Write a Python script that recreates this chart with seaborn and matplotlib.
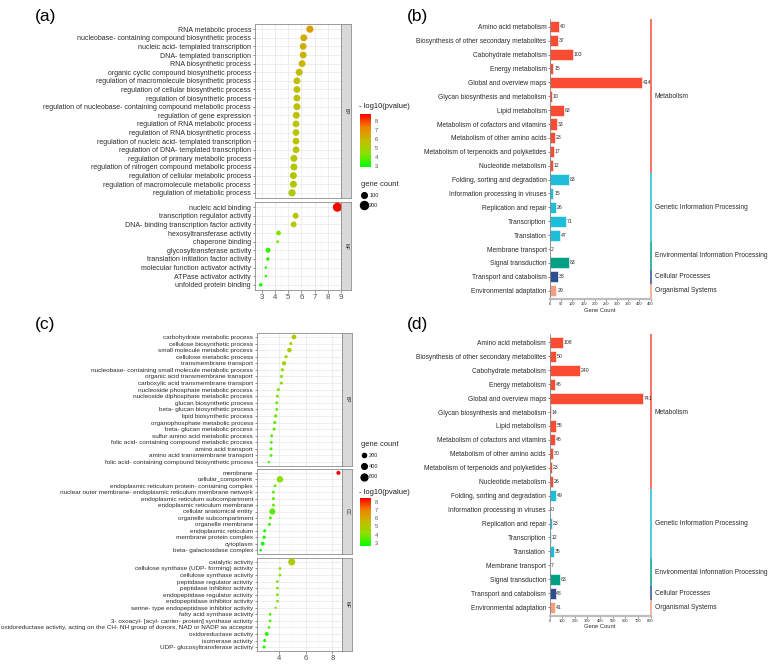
import numpy as np
import pandas as pd
import seaborn as sns
import matplotlib.pyplot as plt
from matplotlib.colors import LinearSegmentedColormap, Normalize
from matplotlib.cm import ScalarMappable
from matplotlib.lines import Line2D

# ---- data: GO enrichment, panel (a) ----
a_bp_terms = ["RNA metabolic process", "nucleobase- containing compound biosynthetic process",
              "nucleic acid- templated transcription", "DNA- templated transcription",
              "RNA biosynthetic process", "organic cyclic compound biosynthetic process",
              "regulation of macromolecule biosynthetic process", "regulation of cellular biosynthetic process",
              "regulation of biosynthetic process",
              "regulation of nucleobase- containing compound metabolic process",
              "regulation of gene expression", "regulation of RNA metabolic process",
              "regulation of RNA biosynthetic process", "regulation of nucleic acid- templated transcription",
              "regulation of DNA- templated transcription", "regulation of primary metabolic process",
              "regulation of nitrogen compound metabolic process", "regulation of cellular metabolic process",
              "regulation of macromolecule metabolic process", "regulation of metabolic process"]
a_bp_logp = [6.65, 6.19, 6.14, 6.14, 6.06, 5.84, 5.67, 5.67, 5.67, 5.67,
             5.62, 5.60, 5.60, 5.60, 5.60, 5.44, 5.44, 5.40, 5.40, 5.30]
a_bp_count = [160, 150, 145, 145, 145, 155, 145, 145, 145, 150,
              148, 142, 140, 140, 140, 150, 150, 152, 155, 160]

a_mf_terms = ["nucleic acid binding", "transcription regulator activity",
              "DNA- binding transcription factor activity", "hexosyltransferase activity",
              "chaperone binding", "glycosyltransferase activity", "translation initiation factor activity",
              "molecular function activator activity", "ATPase activator activity", "unfolded protein binding"]
a_mf_logp = [8.73, 5.57, 5.42, 4.28, 4.21, 3.49, 3.47, 3.32, 3.32, 2.93]
a_mf_count = [260, 110, 105, 70, 25, 80, 40, 20, 20, 35]

# ---- data: GO enrichment, panel (c) ----
c_bp_terms = ["carbohydrate metabolic process", "cellulose biosynthetic process",
              "small molecule metabolic process", "cellulose metabolic process", "transmembrane transport",
              "nucleobase- containing small molecule metabolic process", "organic acid transmembrane transport",
              "carboxylic acid transmembrane transport", "nucleoside phosphate metabolic process",
              "nucleoside diphosphate metabolic process", "glucan biosynthetic process",
              "beta- glucan biosynthetic process", "lipid biosynthetic process",
              "organophosphate metabolic process", "beta- glucan metabolic process",
              "sulfur amino acid metabolic process", "folic acid- containing compound metabolic process",
              "amino acid transport", "amino acid transmembrane transport",
              "folic acid- containing compound biosynthetic process"]
c_bp_logp = [5.12, 4.88, 4.78, 4.53, 4.38, 4.25, 4.18, 4.18, 3.95, 3.88,
             3.83, 3.83, 3.75, 3.68, 3.63, 3.45, 3.42, 3.40, 3.40, 3.23]
c_bp_count = [260, 90, 240, 100, 210, 110, 100, 95, 95, 80,
              85, 85, 110, 105, 90, 70, 70, 80, 75, 40]

c_cc_terms = ["membrane", "cellular_component", "endoplasmic reticulum protein- containing complex",
              "nuclear outer membrane- endoplasmic reticulum membrane network",
              "endoplasmic reticulum subcompartment", "endoplasmic reticulum membrane",
              "cellular anatomical entity", "organelle subcompartment", "organelle membrane",
              "endoplasmic reticulum", "membrane protein complex", "cytoplasm", "beta- galactosidase complex"]
c_cc_logp = [8.45, 4.07, 3.70, 3.58, 3.58, 3.58, 3.50, 3.35, 3.28, 2.93, 2.88, 2.78, 2.63]
c_cc_count = [190, 520, 70, 80, 80, 80, 470, 80, 85, 95, 110, 170, 50]

c_mf_terms = ["catalytic activity", "cellulose synthase (UDP- forming) activity", "cellulose synthase activity",
              "peptidase regulator activity", "peptidase inhibitor activity", "endopeptidase regulator activity",
              "endopeptidase inhibitor activity", "serine- type endopeptidase inhibitor activity",
              "fatty acid synthase activity", "3- oxoacyl- [acyl- carrier- protein] synthase activity",
              "oxidoreductase activity, acting on the CH- NH group of donors, NAD or NADP as acceptor",
              "oxidoreductase activity", "isomerase activity", "UDP- glucosyltransferase activity"]
c_mf_logp = [4.95, 4.07, 4.07, 3.88, 3.88, 3.88, 3.88, 3.75, 3.33, 3.33, 3.25, 3.08, 2.93, 2.88]
c_mf_count = [640, 70, 70, 65, 65, 65, 65, 30, 60, 60, 55, 180, 90, 85]

# ---- data: KEGG classification, panels (b) and (d) ----
kegg_terms = ["Amino acid metabolism", "Biosynthesis of other secondary metabolites", "Cabohydrate metabolism",
              "Energy metabolism", "Global and overview maps", "Glycan biosynthesis and metabolism",
              "Lipid metabolism", "Metabolism of cofactors and vitamins", "Metabolism of other amino acids",
              "Metabolism of terpenoids and polyketides", "Nucleotide metabolism",
              "Folding, sorting and degradation", "Information processing in viruses", "Replication and repair",
              "Transcription", "Translation", "Membrane transport", "Signal transduction",
              "Transport and catabolism", "Environmental adaptation"]
kegg_groups = ["Metabolism"] * 11 + ["Genetic Information Processing"] * 5 + \
              ["Environmental Information Processing"] * 2 + ["Cellular Processes", "Organismal Systems"]
b_counts = [40, 37, 103, 15, 414, 10, 63, 33, 23, 17, 12, 83, 15, 26, 71, 47, 2, 83, 38, 29]
d_counts = [108, 50, 240, 46, 741, 14, 55, 46, 30, 23, 26, 49, 0, 23, 12, 35, 7, 83, 48, 41]

group_order = ["Metabolism", "Genetic Information Processing", "Environmental Information Processing",
               "Cellular Processes", "Organismal Systems"]
group_colors = dict(zip(group_order, ["#FA4B33", "#1DBEDA", "#00A087", "#2F5090", "#F79C80"]))

sns.set_style("white")
plt.rcParams['font.family'] = ['Liberation Sans', 'DejaVu Sans']

W, H = 774, 669
fig = plt.figure(figsize=(W / 100, H / 100), dpi=100)
cmap = LinearSegmentedColormap.from_list("gr", ["#00FF00", "#8CE000", "#C4BC00", "#EC8400", "#FF0000"])
txt = "#2B2B2B"


def rect(l, t, r, b):
    return [l / W, 1 - b / H, (r - l) / W, (b - t) / H]


def dot_facet(box, terms, logp, count, strip, norm, snorm, sizes, xlim, xticks, fs, last):
    l, t, r, b = box
    ax = fig.add_axes(rect(l, t, r, b))
    df = pd.DataFrame({"term": terms, "p": logp, "n": count})
    df["pos"] = np.arange(len(terms))
    sns.scatterplot(data=df, x="p", y="pos", hue="p", palette=cmap, hue_norm=norm,
                    size="n", sizes=sizes, size_norm=snorm, legend=False,
                    linewidth=0, ax=ax, zorder=3)
    ax.set_xlim(*xlim)
    ax.set_ylim(len(terms) - 0.4, -0.6)
    ax.set_yticks(np.arange(len(terms)))
    ax.set_yticklabels(terms)
    ax.set_xticks(xticks)
    ax.set_xticks(np.arange(xticks[0] - (xticks[1] - xticks[0]) / 2, xlim[1], (xticks[1] - xticks[0]) / 2),
                  minor=True)
    ax.grid(which="major", color="#E8E8E8", lw=0.5, zorder=0)
    ax.grid(which="minor", axis="x", color="#F2F2F2", lw=0.3, zorder=0)
    ax.set_axisbelow(True)
    ax.set_xlabel("")
    ax.set_ylabel("")
    for s in ax.spines.values():
        s.set_color("#8C8C8C")
        s.set_linewidth(0.6)
    ax.tick_params(axis="y", labelsize=fs, colors=txt, length=1.8, width=0.4, pad=1, left=True)
    ax.tick_params(axis="x", which="both", length=0)
    if last:
        ax.tick_params(axis="x", which="major", labelsize=5.6, colors="#4D4D4D", length=1.8, width=0.4,
                       pad=1, bottom=True)
    else:
        ax.tick_params(axis="x", labelbottom=False)
    sax = fig.add_axes(rect(r, t, r + 9.5, b))
    sax.set_facecolor("#D9D9D9")
    sax.set_xticks([])
    sax.set_yticks([])
    for s in sax.spines.values():
        s.set_color("#8C8C8C")
        s.set_linewidth(0.6)
    sax.text(0.5, 0.5, strip, rotation=270, ha="center", va="center", fontsize=3.5,
             color="#1A1A1A", transform=sax.transAxes)
    return ax


def colour_legend(x, ytitle, box, norm):
    fig.text(x / W, 1 - ytitle / H, "- log10(pvalue)", fontsize=5.4, color="#1A1A1A", va="center")
    cax = fig.add_axes(rect(*box))
    cb = fig.colorbar(ScalarMappable(norm=norm, cmap=cmap), cax=cax)
    cb.outline.set_visible(False)
    cb.set_ticks([3, 4, 5, 6, 7, 8])
    cax.tick_params(labelsize=4, colors="#4D4D4D", length=0, pad=2.5)


def size_legend(x, y, values, snorm, sizes, spacing):
    handles = []
    for v in values:
        s = sizes[0] + (v - snorm[0]) / (snorm[1] - snorm[0]) * (sizes[1] - sizes[0])
        handles.append(Line2D([], [], marker="o", ls="", color="black", markersize=np.sqrt(s)))
    leg = fig.legend(handles, [str(v) for v in values], title="gene count", loc="upper left",
                     bbox_to_anchor=(x / W, 1 - y / H), frameon=False, fontsize=4, title_fontsize=5.4,
                     handletextpad=0.3, labelspacing=spacing, borderpad=0, handlelength=1.2)
    leg._legend_box.align = "left"


# ---- panel (a) ----
norm_a = Normalize(2.93, 8.73)
snorm_a, sizes_a = (0, 300), (0, 50)
dot_facet((255, 24, 341, 198), a_bp_terms, a_bp_logp, a_bp_count, "BP", norm_a, snorm_a, sizes_a,
          (2.63, 9.0), np.arange(3, 10), 5.05, False)
dot_facet((255, 202, 341, 290), a_mf_terms, a_mf_logp, a_mf_count, "MF", norm_a, snorm_a, sizes_a,
          (2.63, 9.0), np.arange(3, 10), 5.05, True)
colour_legend(359, 107, (360, 114, 371, 167), norm_a)
size_legend(358, 178, [100, 200], snorm_a, sizes_a, 0.95)

# ---- panel (c) ----
norm_c = Normalize(2.6, 8.45)
snorm_c, sizes_c = (0, 700), (1.5, 28)
dot_facet((257, 333, 342, 466), c_bp_terms, c_bp_logp, c_bp_count, "BP", norm_c, snorm_c, sizes_c,
          (2.35, 8.72), np.arange(4, 9, 2), 4.55, False)
dot_facet((257, 469, 342, 554), c_cc_terms, c_cc_logp, c_cc_count, "CC", norm_c, snorm_c, sizes_c,
          (2.35, 8.72), np.arange(4, 9, 2), 4.55, False)
dot_facet((257, 558, 342, 651), c_mf_terms, c_mf_logp, c_mf_count, "MF", norm_c, snorm_c, sizes_c,
          (2.35, 8.72), np.arange(4, 9, 2), 4.55, True)
size_legend(358, 438, [200, 400, 600], snorm_c, sizes_c, 1.0)
colour_legend(359, 492, (360, 498, 371, 546), norm_c)


# ---- KEGG bar panels ----
def bar_panel(box, counts, xmax, xticks):
    ax = fig.add_axes(rect(*box))
    df = pd.DataFrame({"term": kegg_terms, "n": counts, "grp": kegg_groups})
    sns.barplot(data=df, x="n", y="term", hue="grp", hue_order=group_order, palette=group_colors,
                dodge=False, width=0.8, saturation=1, edgecolor="white", linewidth=0.4,
                legend=False, ax=ax)
    for c in ax.containers:
        ax.bar_label(c, fmt="%g", fontsize=3.7, padding=0.6, color=txt)
    n = len(kegg_terms)
    ax.set_xlim(0, xmax)
    ax.set_ylim(n - 0.4, -0.6)
    ax.set_xticks(xticks)
    ax.set_xlabel("Gene Count", fontsize=4.2, color=txt, labelpad=1)
    ax.set_ylabel("")
    ax.spines["top"].set_visible(False)
    ax.spines["right"].set_visible(False)
    ax.spines["left"].set_color("#666666")
    ax.spines["left"].set_linewidth(0.5)
    ax.spines["bottom"].set_color("#BDBDBD")
    ax.spines["bottom"].set_linewidth(1.6)
    ax.tick_params(axis="y", labelsize=4.75, colors=txt, length=1.5, width=0.4, pad=1, left=True)
    ax.tick_params(axis="x", labelsize=2.9, colors=txt, length=1.5, width=0.4, pad=1, bottom=True)
    pos = np.arange(n)
    grp = np.array(kegg_groups)
    for i, g in enumerate(group_order):
        rows = pos[grp == g]
        lo = -0.6 if i == 0 else rows.min() - 0.5
        hi = n - 0.4 if i == len(group_order) - 1 else rows.max() + 0.5
        ax.vlines(xmax, lo, hi, color=group_colors[g], lw=1.1, clip_on=False)
        ax.annotate(g, (xmax, rows.mean()), xytext=(3, 0), textcoords="offset points",
                    ha="left", va="center", fontsize=4.8, color=txt, annotation_clip=False)
    return ax


bar_panel((550, 18.5, 650.5, 299), b_counts, 450, np.arange(0, 451, 50))
bar_panel((549.5, 334, 650.5, 615.5), d_counts, 800, np.arange(0, 801, 100))

# panel letters
for lab, x, y in [("(a)", 35, 16), ("(b)", 407, 16), ("(c)", 35, 325), ("(d)", 407, 325)]:
    fig.text(x / W, 1 - y / H, lab, fontsize=12.5, va="center", ha="left", color="black")

fig.savefig("out.png", dpi=100)
